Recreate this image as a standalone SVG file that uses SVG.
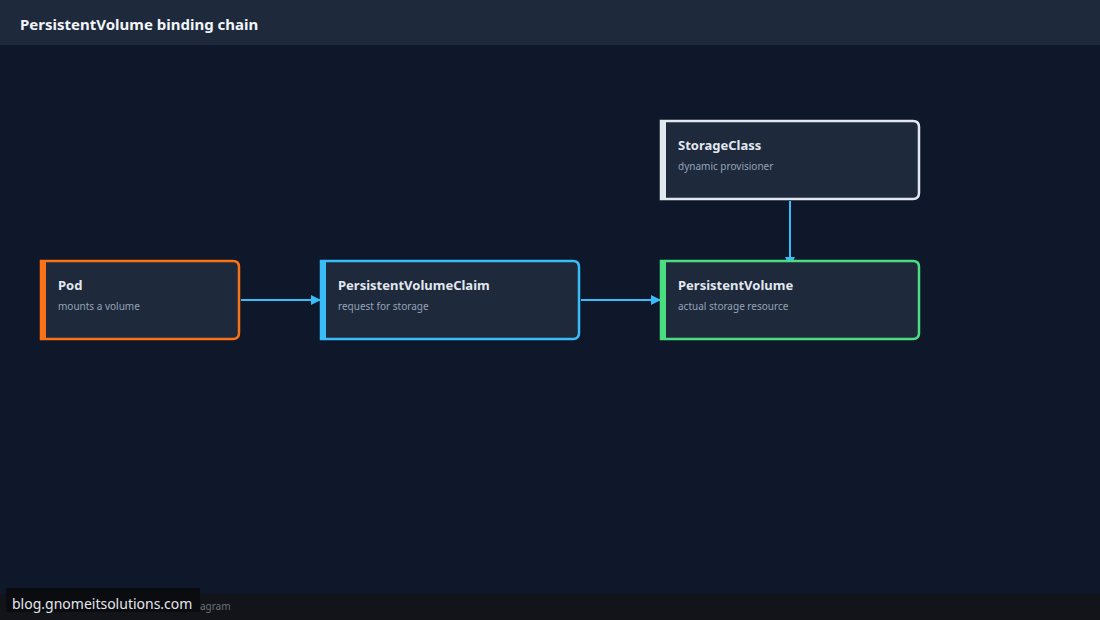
<svg xmlns="http://www.w3.org/2000/svg" width="1100" height="620" viewBox="0 0 1100 620">
<style>
.t{font-family:"Noto Sans","Open Sans",sans-serif;font-size:13px;font-weight:bold;fill:#e2e8f0}
.s{font-family:"Noto Sans","Open Sans",sans-serif;font-size:10px;fill:#94a3b8}
.box{fill:#1e293b;stroke-width:2.5}
.c{stroke:#38bdf8;stroke-width:2;fill:none}
</style>
<defs><marker id="a" markerWidth="10" markerHeight="10" refX="9" refY="5" orient="auto" markerUnits="userSpaceOnUse"><path d="M0,0 L10,5 L0,10 Z" fill="#38bdf8"/></marker></defs>
<rect width="1100" height="620" fill="#0f172a"/>
<rect width="1100" height="45" fill="#1e293b"/>
<text x="20" y="30" font-family="Noto Sans,sans-serif" font-size="15" font-weight="bold" fill="#f1f5f9">PersistentVolume binding chain</text>
<g id="connectors">
<path class="c" d="M241,300 H320" marker-end="url(#a)"/>
<path class="c" d="M581,300 H660" marker-end="url(#a)"/>
<path class="c" d="M790,201 V266" marker-end="url(#a)"/>
</g>
<g id="pod"><path class="box" stroke="#f97316" d="M41,261 H233 Q239,261 239,267 V333 Q239,339 233,339 H41 Z"/><rect x="40" y="260" width="6" height="80" fill="#f97316"/><text class="t" x="58" y="290">Pod</text><text class="s" x="58" y="310">mounts a volume</text></g>
<g id="pvc"><path class="box" stroke="#38bdf8" d="M321,261 H573 Q579,261 579,267 V333 Q579,339 573,339 H321 Z"/><rect x="320" y="260" width="6" height="80" fill="#38bdf8"/><text class="t" x="338" y="290">PersistentVolumeClaim</text><text class="s" x="338" y="310">request for storage</text></g>
<g id="pv"><path class="box" stroke="#4ade80" d="M661,261 H913 Q919,261 919,267 V333 Q919,339 913,339 H661 Z"/><rect x="660" y="260" width="6" height="80" fill="#4ade80"/><text class="t" x="678" y="290">PersistentVolume</text><text class="s" x="678" y="310">actual storage resource</text></g>
<g id="sc"><path class="box" stroke="#e2e8f0" d="M661,121 H913 Q919,121 919,127 V193 Q919,199 913,199 H661 Z"/><rect x="660" y="120" width="6" height="80" fill="#e2e8f0"/><text class="t" x="678" y="150">StorageClass</text><text class="s" x="678" y="170">dynamic provisioner</text></g>
<rect y="594" width="1100" height="26" fill="#121419"/>
<text x="190" y="610" font-family="Noto Sans,sans-serif" font-size="10" fill="#6b7280">Diagram</text>
<rect x="6" y="588" width="194" height="24" fill="#0a0c10"/>
<text x="12" y="609" font-family="Noto Sans,sans-serif" font-size="14" fill="#e5e7eb">blog.gnomeitsolutions.com</text>
</svg>
